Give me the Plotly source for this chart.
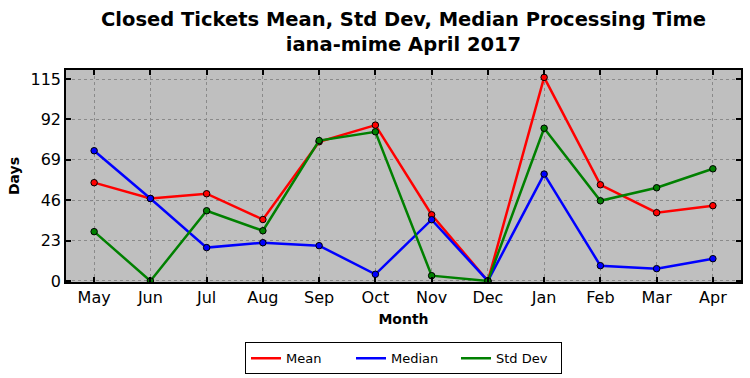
import plotly.graph_objects as go

months = ["May", "Jun", "Jul", "Aug", "Sep", "Oct", "Nov", "Dec", "Jan", "Feb", "Mar", "Apr"]
mean_vals = [56, 47, 49.7, 35, 79.3, 88.8, 37.7, 0, 116, 54.8, 38.9, 42.9]
median_vals = [74.2, 47, 19, 21.8, 20.1, 3.8, 34.9, 0, 60.9, 8.7, 7, 12.7]
std_vals = [28.1, 0, 40, 28.6, 80, 85, 3, 0, 87, 45.7, 53.1, 63.9]
yticks = [0, 23, 46, 69, 92, 115]

series = [("Mean", mean_vals, "red"), ("Median", median_vals, "blue"), ("Std Dev", std_vals, "green")]

fig = go.Figure()
xs = list(range(len(months)))
for name, vals, col in series:
    fig.add_trace(go.Scatter(
        x=xs, y=vals, name=name, mode="lines+markers", showlegend=False,
        line=dict(color=col, width=2.5),
        marker=dict(color=col, size=6.5, line=dict(color="black", width=1)),
    ))
# legend entries (line only, like the reference)
for name, vals, col in series:
    fig.add_trace(go.Scatter(
        x=[None], y=[None], name=name, mode="lines",
        line=dict(color=col, width=2.5),
    ))

font_family = "DejaVu Sans"
fig.update_layout(
    width=750, height=378,
    margin=dict(l=66, r=9, t=70, b=96, autoexpand=False),
    paper_bgcolor="white", plot_bgcolor="#bfbfbf",
    font=dict(family=font_family, color="black"),
    title=dict(
        text="<b>Closed Tickets Mean, Std Dev, Median Processing Time<br>iana-mime April 2017</b>",
        x=0.538, xanchor="center", yref="container", y=0.932, yanchor="middle",
        font=dict(size=19.5, family=font_family),
    ),
    showlegend=True,
    legend=dict(
        orientation="h", x=0.5, xanchor="center", y=-0.285, yanchor="top",
        bordercolor="black", borderwidth=1, font=dict(size=13),
        traceorder="normal", entrywidth=60, entrywidthmode="pixels",
    ),
)
axis_common = dict(
    automargin=False, tickfont=dict(size=16),
    showline=True, linecolor="black", linewidth=1.5, mirror="ticks",
    ticks="inside", ticklen=5, tickcolor="black", tickwidth=1.5,
    showgrid=True, gridcolor="#8a8a8a", griddash="dot", gridwidth=1, zeroline=False,
)
fig.update_xaxes(
    range=[-0.5, 11.5], tickvals=xs, ticktext=months,
    title=dict(text="<b>Month</b>", font=dict(size=14), standoff=8),
    **axis_common,
)
fig.update_yaxes(
    range=[-0.6, 120.2], tickvals=yticks,
    title=dict(text="<b>Days</b>", font=dict(size=14), standoff=8),
    **axis_common,
)
fig.write_html(
    "out.html",
    config={"displayModeBar": False},
    post_script="document.body.style.margin='0';document.body.style.overflow='hidden';",
)
